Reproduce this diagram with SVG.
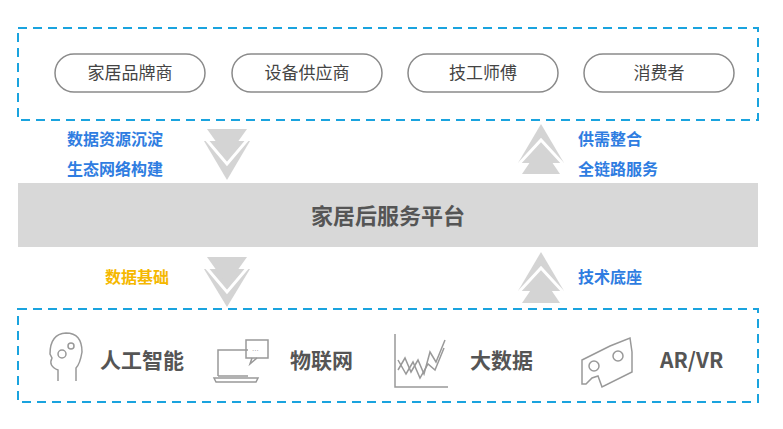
<svg xmlns="http://www.w3.org/2000/svg" width="783" height="429" viewBox="0 0 783 429">
<style>
.box{fill:none;stroke:#1aa3de;stroke-width:2;stroke-dasharray:9,6}
.pill{fill:#fff;stroke:#8a8a8a;stroke-width:1.5}
.pt{font-family:"Noto Sans CJK SC",sans-serif;font-size:17px;fill:#444;text-anchor:middle}
.bl{font-family:"Noto Sans CJK SC",sans-serif;font-size:16px;font-weight:bold;fill:#2f7de1}
.tech{font-family:"Noto Sans CJK SC","Liberation Sans",sans-serif;font-size:21px;font-weight:bold;fill:#555}
.ar{fill:#d4d4d4}
.ic{fill:none;stroke:#999;stroke-width:1.5}
</style>
<rect width="783" height="429" fill="#fff"/>
<rect class="box" x="18" y="28" width="740" height="92"/>
<rect class="box" x="18" y="309" width="740" height="93"/>
<g id="n1"><rect class="pill" x="55" y="54" width="150" height="38" rx="19"/><text class="pt" x="130" y="79">家居品牌商</text></g>
<g id="n2"><rect class="pill" x="232" y="54" width="150" height="38" rx="19"/><text class="pt" x="307" y="79">设备供应商</text></g>
<g id="n3"><rect class="pill" x="408" y="54" width="150" height="38" rx="19"/><text class="pt" x="483" y="79">技工师傅</text></g>
<g id="n4"><rect class="pill" x="584" y="54" width="150" height="38" rx="19"/><text class="pt" x="659" y="79">消费者</text></g>
<g id="platform"><rect x="18" y="183" width="740" height="64" fill="#d8d8d8"/><text x="388" y="224" text-anchor="middle" font-family="Noto Sans CJK SC,sans-serif" font-size="22" font-weight="bold" fill="#555">家居后服务平台</text></g>
<g id="connectors">
<polygon class="ar" points="204,141 250,141 227,180"/><polyline points="205,138 227,164 249,138" fill="none" stroke="#fff" stroke-width="3"/><polygon class="ar" points="207,129 247,129 227,157"/>
<polygon class="ar" points="204,269 250,269 227,307"/><polyline points="205,266 227,292 249,266" fill="none" stroke="#fff" stroke-width="3"/><polygon class="ar" points="207,257 247,257 227,285"/>
<polygon class="ar" points="518,163 564,163 541,124"/><polyline points="517,166 541,140 565,166" fill="none" stroke="#fff" stroke-width="3"/><polygon class="ar" points="522,174 560,174 541,146"/>
<polygon class="ar" points="518,291 564,291 541,252"/><polyline points="517,294 541,268 565,294" fill="none" stroke="#fff" stroke-width="3"/><polygon class="ar" points="522,303 560,303 541,275"/>
</g>
<g id="labels">
<text class="bl" x="67" y="145">数据资源沉淀</text>
<text class="bl" x="67" y="175">生态网络构建</text>
<text class="bl" x="578" y="145">供需整合</text>
<text class="bl" x="578" y="175">全链路服务</text>
<text class="bl" x="105" y="283" fill="#f5b800" style="fill:#f5b800">数据基础</text>
<text class="bl" x="578" y="283">技术底座</text>
</g>
<g id="ai"><path class="ic" d="M58,381 L58,370 Q48,366 52,358 L50,354 Q50,334 66,333 Q82,333 82,352 Q80,364 76,368 L76,381"/><circle class="ic" cx="62" cy="354" r="4"/><circle class="ic" cx="71" cy="346" r="3"/><text class="tech" x="100" y="368">人工智能</text></g>
<g id="iot"><path class="ic" d="M218,376 L218,350 L248,350 M218,376 L248,376 M214,378 L258,378 L256,382 L216,382 Z"/><rect class="ic" x="246" y="340" width="22" height="18"/><path class="ic" d="M252,358 L250,364 L257,358"/><text x="252" y="351" font-family="Liberation Sans" font-size="8" fill="#999">...</text><text class="tech" x="290" y="368">物联网</text></g>
<g id="bigdata"><path class="ic" d="M395,334 L395,387 L448,387"/><polyline class="ic" points="398,370 405,358 411,372 418,360 424,374 430,352 436,362 445,340"/><polyline class="ic" points="398,360 406,374 413,362 420,378 428,364 435,370 444,348"/><text class="tech" x="470" y="368">大数据</text></g>
<g id="vr"><path class="ic" d="M582,360 L610,346 L630,338 L632,352 L632,372 L602,387 L598,376 L592,378 L586,384 L582,384 Z M582,360 L582,384"/><circle class="ic" cx="594" cy="366" r="5"/><circle class="ic" cx="618" cy="356" r="5"/><text class="tech" x="660" y="368">AR/VR</text></g>
</svg>
